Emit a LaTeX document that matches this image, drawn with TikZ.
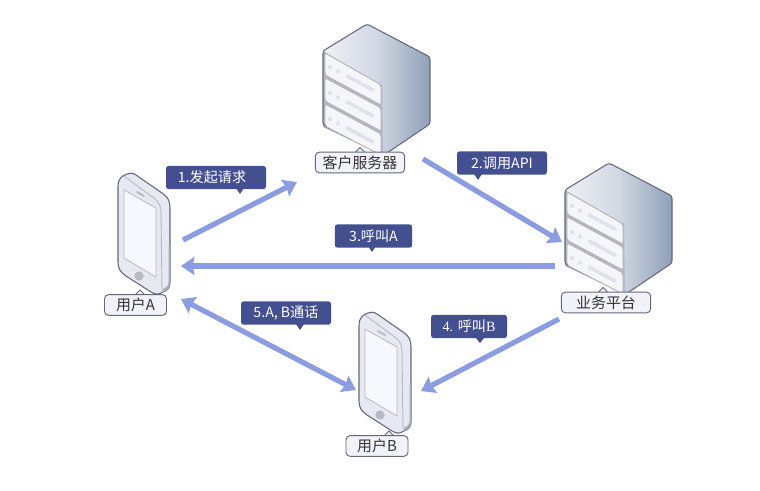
\documentclass[tikz,border=0pt]{standalone}
\usepackage{fontspec}
\setmainfont{Noto Sans CJK SC}
\newfontfamily\serifB{Liberation Serif}
\usetikzlibrary{arrows.meta}
\definecolor{flow}{HTML}{8C9CE0}
\definecolor{tagblue}{HTML}{434F8F}
\definecolor{edgegrey}{HTML}{63687C}
\definecolor{bodypale}{HTML}{E6E9F2}
\definecolor{srvlight}{HTML}{EEF0F5}
\definecolor{srvside}{HTML}{8FA0B9}
\definecolor{srvfront}{HTML}{B2B7C5}
\definecolor{slotgrey}{HTML}{DFE2EC}
\definecolor{screenpale}{HTML}{F7F8FD}
\definecolor{phoneedge}{HTML}{A8ABBB}
\tikzset{
  flowtip/.tip={Stealth[width=13.5pt,length=10pt,inset=1.3pt]},
  flowline/.style={draw=flow,line width=3.9pt,-flowtip},
  flowboth/.style={draw=flow,line width=3.9pt,flowtip-flowtip},
  tagbox/.style={fill=tagblue,rounded corners=2pt,text=white,font=\fontsize{10.6pt}{12pt}\selectfont,inner sep=0pt,minimum height=17.5pt},
  namebox/.style={draw=edgegrey,line width=.7pt,fill=bodypale!55!white,rounded corners=3pt,text=black!80,font=\fontsize{11.2pt}{12pt}\selectfont,inner sep=0pt,minimum height=15.5pt},
  drawer/.style={draw=black!30,line width=.5pt,fill=srvlight!60!white,rounded corners=1.5pt},
  slot/.style={draw=slotgrey,line cap=round},
  caseline/.style={draw=edgegrey,line width=.8pt,line join=round},
  pointer/.style={draw=edgegrey,fill=bodypale!55!white,line width=.7pt},
}
\newcommand{\serverpic}{%
  \shade[left color=srvlight,right color=srvside,middle color=srvlight!70!srvside] (323,51) -- (367,24) -- (430,57) -- (430,124) -- (383,155) -- (323,127) -- cycle;
  \fill[srvfront] (323,51) -- (382,85) -- (383,155) -- (323,127) -- cycle;
  \draw[caseline,rounded corners=2pt] (382,155) -- (323,125) -- (323,51) -- (367,24) -- (430,57) -- (430,124) -- (384,155);
  \draw[drawer] (325,53) -- (381,85) -- (381,105) -- (325,75) -- cycle;
  \draw[drawer] (325,78) -- (381,108) -- (381,131) -- (325,101) -- cycle;
  \draw[drawer] (325,104) -- (381,134) -- (381,155) -- (325,126) -- cycle;
  \foreach \d in {0,26,52}{
    \fill[slotgrey] (330,{67+\d}) circle (2.2) (338,{71.5+\d}) circle (2.2);
    \draw[slot,line width=2.7pt] (347,{76+\d}) -- (373,{90+\d});
  }
}
\newcommand{\phonepic}{%
  \draw[caseline,fill=bodypale] (118,187) .. controls (118,178) and (122,176) .. (127,174) .. controls (130,172.5) and (133,173) .. (136,175) -- (162,193) .. controls (168,197) and (170,201) .. (170,208) -- (170,282) .. controls (170,288) and (168,290) .. (163,292) -- (161,293) .. controls (157,295) and (155,294) .. (151,292) -- (126,276) .. controls (120,272) and (118,268) .. (118,262) -- cycle;
  \fill[phoneedge] (168.5,245) -- (170,245) -- (170,282) .. controls (170,288) and (168,290) .. (163,292) -- (163,289) .. controls (166,288) and (168.5,286) .. (168.5,282) -- cycle;
  \draw[black!20!bodypale,line width=.7pt] (124,176) -- (155,199) .. controls (159,202) and (161,207) .. (161,212) -- (162,291);
  \fill[screenpale,draw=black!20!bodypale,line width=.6pt] (124,190) -- (156,208) -- (156,277) -- (124,258) -- cycle;
  \draw[black!20!bodypale,line width=1.4pt,line cap=round] (137,192) -- (144,196);
  \fill[black!20!bodypale] (139,276) circle (4.6);
}
\begin{document}
\begin{tikzpicture}[x=.75pt,y=-.75pt]
\useasboundingbox (0,0) rectangle (760,490);
\fill[white] (0,0) rectangle (760,490);
\begin{scope}\serverpic\end{scope}
\begin{scope}[shift={(242,139)}]\serverpic\end{scope}
\begin{scope}\phonepic\end{scope}
\begin{scope}[shift={(241,139)}]\phonepic\end{scope}

\filldraw[pointer] (355,152.5) -- (360,147.5) -- (365,152.5);
\filldraw[pointer] (598,292.5) -- (603,287.5) -- (608,292.5);
\filldraw[pointer] (135,295) -- (140,290) -- (145,295);
\filldraw[pointer] (384,436) -- (389,431) -- (394,436);
\node[namebox,minimum width=67pt] (srv) at (360,162.5) {客户服务器};
\node[namebox,minimum width=67pt] (plat) at (606,302.5) {业务平台};
\node[namebox,minimum width=46.5pt] (ua) at (135.5,305) {用户A};
\node[namebox,minimum width=46.5pt] (ub) at (377,446) {用户B};

\coordinate (a1) at (183,240); \coordinate (s1) at (297,182);
\coordinate (s2) at (423,159); \coordinate (p2) at (562,242);
\coordinate (p3) at (555,266); \coordinate (a3) at (181,266);
\coordinate (p4) at (559,319); \coordinate (b4) at (421,391);
\coordinate (a5) at (181,299); \coordinate (b5) at (356,390);
\draw[flowline] (a1) -- (s1);
\draw[flowline] (s2) -- (p2);
\draw[flowline] (p3) -- (a3);
\draw[flowline] (p4) -- (b4);
\draw[flowboth] (a5) -- (b5);

\node[tagbox,minimum width=75pt,text width=68pt,align=center] (t1) at (216,177.5) {\hspace*{-6pt}1.发起请求};
\fill[tagblue] (236,188) -- (240,194) -- (244,188) -- cycle;
\node[tagbox,minimum width=67.5pt] (t2) at (502,163) {2.调用API};
\fill[tagblue] (474,174) -- (478,180) -- (482,174) -- cycle;
\node[tagbox,minimum width=58pt] (t3) at (373.5,236) {3.呼叫A};
\fill[tagblue] (368,246) -- (372,252) -- (376,246) -- cycle;
\node[tagbox,minimum width=57pt] (t4) at (469,326.5) {{\serifB 4. }呼叫{\serifB B}};
\fill[tagblue] (476,338) -- (480,343) -- (484,338) -- cycle;
\node[tagbox,minimum width=67.5pt] (t5) at (286,313) {5.A, B通话};
\fill[tagblue] (296,324) -- (300,330) -- (304,324) -- cycle;
\end{tikzpicture}
\end{document}
